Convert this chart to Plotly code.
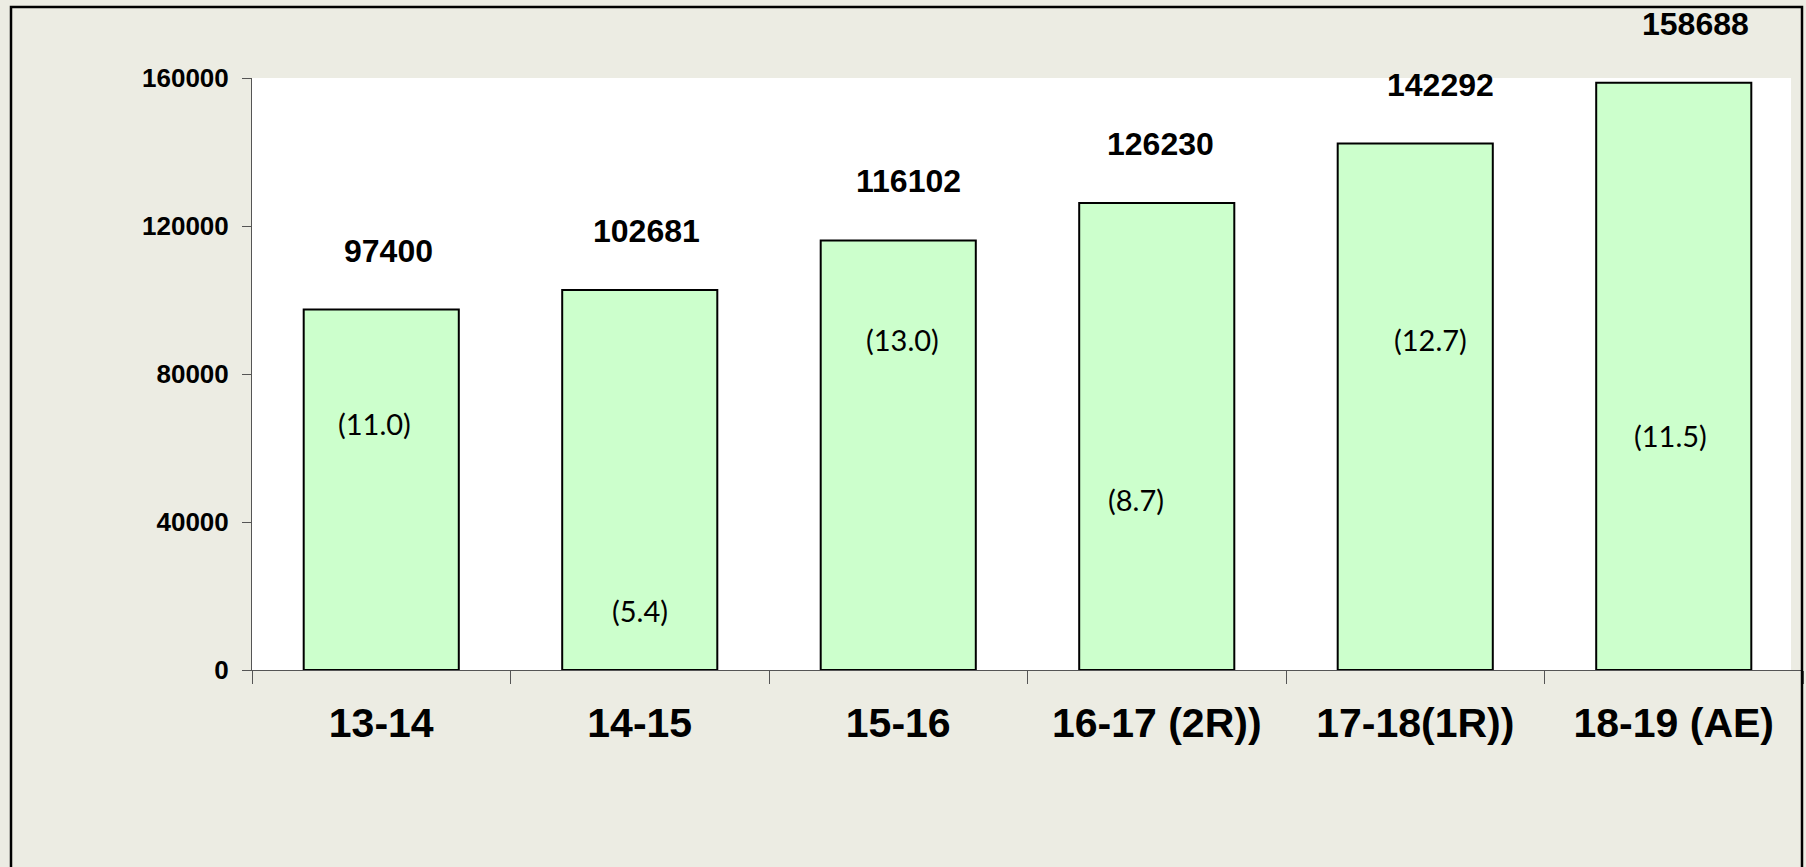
import plotly.graph_objects as go

categories = ["13-14", "14-15", "15-16", "16-17 (2R))", "17-18(1R))", "18-19 (AE)"]
values = [97400, 102681, 116102, 126230, 142292, 158688]
growth = ["(11.0)", "(5.4)", "(13.0)", "(8.7)", "(12.7)", "(11.5)"]
y_ticks = [0, 40000, 80000, 120000, 160000]

# label placement (layout only)
growth_label_y = [66500, 16000, 89200, 46000, 89400, 63500]
growth_label_dx = [-7, 0, 4, -21, 15, -3]
value_label_dx = [7, 7, 10, 4, 25, 22]

W, H = 1806, 867
ML, MR, MT, MB = 252, 3, 78, 197
pw = W - ML - MR
ph = H - MT - MB
BG = "#ECECE3"

fig = go.Figure()
fig.add_trace(go.Bar(
    x=categories, y=values, width=0.6,
    marker=dict(color="#CCFFCC", line=dict(color="#000000", width=2)),
    hoverinfo="x+y",
))

ann = []
for c, v, dx in zip(categories, values, value_label_dx):
    ann.append(dict(x=c, y=v, xref="x", yref="y", text=str(v), showarrow=False,
                    yshift=59, xshift=dx, yanchor="middle",
                    font=dict(family="Liberation Sans, Arial, sans-serif", size=32,
                              color="#000000", weight="bold")))
for c, g, gy, dx in zip(categories, growth, growth_label_y, growth_label_dx):
    ann.append(dict(x=c, y=gy, xref="x", yref="y", text=g, showarrow=False,
                    yanchor="middle", xshift=dx,
                    font=dict(family="Lato, Noto Sans, sans-serif", size=29, color="#000000")))

# white plot panel (ends a little before the frame) and outer frame
wx1 = (1791 - ML) / pw
fx0 = (11 - ML) / pw
fx1 = (1802 - ML) / pw
fy1 = (H - MB - 7) / ph
shapes = [
    dict(type="rect", xref="paper", yref="paper", x0=0, x1=wx1, y0=0, y1=1,
         fillcolor="#FFFFFF", line=dict(width=0), layer="below"),
    dict(type="path", xref="paper", yref="paper",
         path=f"M {fx0} -0.5 L {fx0} {fy1} L {fx1} {fy1} L {fx1} -0.5",
         line=dict(color="#000000", width=2.5), layer="above"),
]

fig.update_layout(
    width=W, height=H,
    margin=dict(l=ML, r=MR, t=MT, b=MB, pad=0),
    paper_bgcolor=BG,
    plot_bgcolor="rgba(0,0,0,0)",
    showlegend=False,
    annotations=ann,
    shapes=shapes,
    bargap=0.4,
)
fig.update_xaxes(
    type="category", tickson="boundaries", ticks="outside", ticklen=13,
    tickcolor="#555555", tickwidth=1, showline=True, linecolor="#555555", linewidth=1,
    showgrid=False, zeroline=False,
    tickfont=dict(family="Liberation Sans, Arial, sans-serif", size=41, color="#000000", weight="bold"),
    ticklabelstandoff=17,
)
fig.update_yaxes(
    range=[0, 160000], tickvals=y_ticks, ticktext=[str(t) for t in y_ticks],
    ticks="outside", ticklen=9, tickcolor="#555555", tickwidth=1,
    showline=True, linecolor="#555555", linewidth=1, showgrid=False, zeroline=False,
    tickfont=dict(family="Liberation Sans, Arial, sans-serif", size=26, color="#000000", weight="bold"),
    ticklabelstandoff=8,
)

fig.write_html(
    "out.html",
    config={"displayModeBar": False},
    post_script="document.body.style.margin='0';document.body.style.padding='0';"
                "document.body.style.overflow='hidden';document.body.style.background='" + BG + "';",
)
